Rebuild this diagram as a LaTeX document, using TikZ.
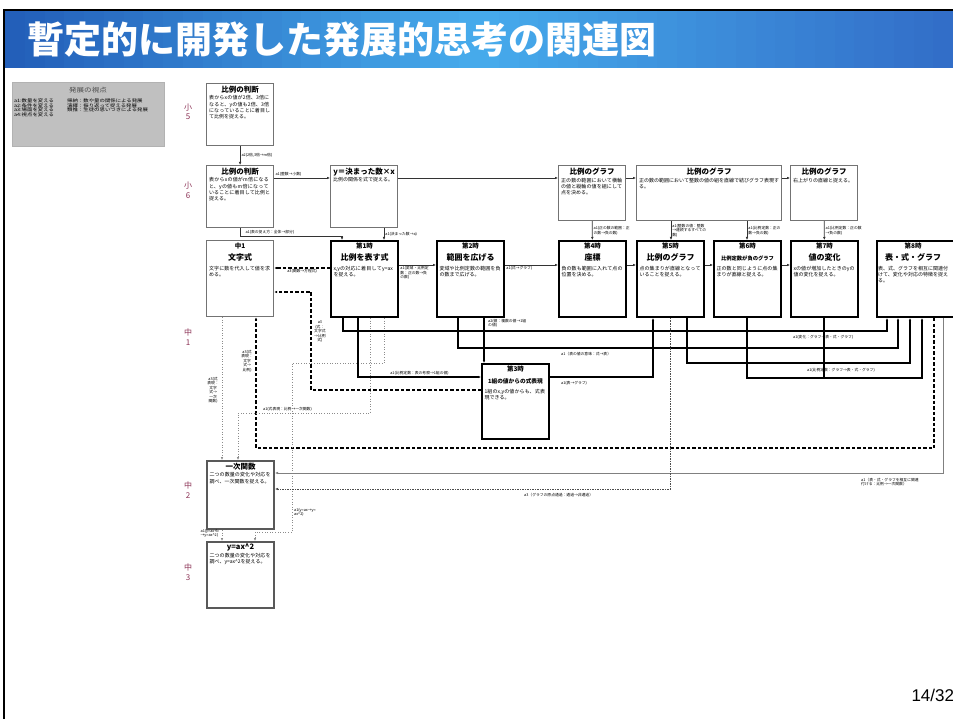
\documentclass[tikz,border=0pt]{standalone}
\usepackage{fontspec}
\setmainfont{Noto Sans CJK JP}
\newfontfamily\hiroi{Noto Sans CJK JP}[FakeStretch=1.2]
\newfontfamily\pagefont{Liberation Sans}
\usetikzlibrary{arrows.meta}
\XeTeXlinebreaklocale "ja"
\XeTeXlinebreakskip=0pt plus 1pt
\definecolor{gakunen}{RGB}{140,50,85}
\definecolor{haiiro}{RGB}{192,192,192}
\definecolor{aoL}{RGB}{35,95,185}
\definecolor{aoM}{RGB}{70,170,235}
\definecolor{aoR}{RGB}{50,110,200}
\newcommand{\honbun}{\fontsize{5}{6.3}\selectfont}
\newcommand{\komoji}{\fontsize{3.8}{4.5}\selectfont}
\newcommand{\midashi}[1]{{\centering\bfseries\fontsize{7.5}{10}\selectfont #1\par}\vspace{1pt}}
\newcommand{\jikan}[2]{{\centering\bfseries\fontsize{6.5}{9}\selectfont #1\par\fontsize{8}{12}\selectfont #2\par}\vspace{3pt}}
\begin{document}
\begin{tikzpicture}[x=1pt, y=-1pt,
  kihon/.style={draw=black!55, line width=1.2pt, anchor=north west, inner sep=0pt, minimum width=67pt},
  futo/.style={kihon, draw=black, line width=2pt},
  naka/.style={anchor=north, text width=#1, align=left, inner sep=2pt, yshift=-1pt, font=\honbun},
  naka/.default=62pt,
  ya/.style={-{Latex[length=3pt,width=2.6pt]}},
  sen/.style={ya, draw=black!80, line width=0.8pt},
  futosen/.style={ya, line width=1.5pt},
  tensen/.style={ya, line width=1.3pt, dash pattern=on 3.5pt off 2pt},
  hasen/.style={ya, draw=black!45, line width=0.6pt, dotted},
  hasen2/.style={ya, draw=black!70, line width=0.9pt, dash pattern=on 1.5pt off 1pt},
  lab/.style={font=\komoji, inner sep=1pt, align=left},
  gaku/.style={text=gakunen, font=\fontsize{8}{9.5}\selectfont, align=center}]
\useasboundingbox (0,0) rectangle (953,719);
\fill[white] (0,0) rectangle (953,719);
% title bar gradient
\foreach \i in {0,...,23} {
  \pgfmathsetmacro\mixA{100*\i/23}
  \pgfmathsetmacro\mixB{100-100*\i/23}
  \fill[aoM!\mixA!aoL] (5+19.75*\i,11) rectangle (5+19.75*\i+20.5,68);
  \fill[aoR!\mixA!aoM] (479+19.75*\i,11) rectangle (479+19.75*\i+20.5,68);
}
\draw[line width=2.5pt] (4,719) -- (4,10) -- (953,10);
\node[anchor=west, text=white, font=\fontsize{37}{40}\selectfont\bfseries] (daimei) at (24,40) {暫定的に開発した発展的思考の関連図};
\node[anchor=west, font=\pagefont\fontsize{17}{17}\selectfont] (peji) at (908,695) {14/32};

\node[fill=haiiro, draw=black!30, line width=0.4pt, minimum width=152pt, minimum height=64pt, anchor=north west, inner sep=0pt] (shiten) at (12,82) {};
\node[font=\hiroi\fontsize{6.3}{7}\selectfont, text=black!70] (shitenmidashi) at (88,90) {発展の視点};
\node[anchor=north west, inner sep=0pt, align=left, font=\hiroi\fontsize{4.5}{4.5}\selectfont] (shitenA) at (14,99) {a1:数量を変える\\a2:条件を変える\\a3:場面を変える\\a4:視点を変える};
\node[anchor=north west, inner sep=0pt, align=left, font=\hiroi\fontsize{4.5}{4.5}\selectfont] (shitenB) at (67,99) {帰納：数や量の関係による発展\\演繹：振り返って捉える発展\\類推：生徒の思いつきによる発展};

\node[gaku] (sho5) at (188,112) {小\\5};
\node[gaku] (sho6) at (188,190) {小\\6};
\node[gaku] (chu1) at (188,337) {中\\1};
\node[gaku] (chu2) at (188,490) {中\\2};
\node[gaku] (chu3) at (188,572) {中\\3};

\node[kihon, minimum height=62pt, label={[naka]north:{\midashi{比例の判断}表からxの値が2倍、3倍になると、yの値も2倍、3倍になっていることに着目して比例を捉える。}}] (hanrei5) at (206,83) {};
\node[kihon, minimum height=62pt, label={[naka]north:{\midashi{比例の判断}表からxの値がm倍になると、yの値もm倍になっていることに着目して比例と捉える。}}] (hanrei6) at (206,165) {};
\node[kihon, minimum height=62pt, label={[naka]north:{\midashi{y＝決まった数×x}比例の関係を式で捉える。}}] (kimatta) at (330,165) {};
\node[kihon, minimum height=55pt, label={[naka]north:{\midashi{比例のグラフ}正の数の範囲において横軸の値と縦軸の値を組にして点を決める。}}] (graph1) at (558,165) {};
\node[kihon, minimum height=55pt, minimum width=145pt, label={[naka=140pt]north:{\midashi{比例のグラフ}正の数の範囲において整数の値の組を直線で結びグラフ表現する。}}] (graph2) at (636,165) {};
\node[kihon, minimum height=55pt, label={[naka]north:{\midashi{比例のグラフ}右上がりの直線と捉える。}}] (graph3) at (790,165) {};

\node[kihon, minimum height=76pt, label={[naka]north:{\jikan{中1}{文字式}文字に数を代入して値を求める。}}] (mojishiki) at (206,240) {};
\node[futo, minimum height=76pt, label={[naka]north:{\jikan{第1時}{比例を表す式}x,yの対応に着目してy=axを捉える。}}] (ji1) at (330,240) {};
\node[futo, minimum height=76pt, label={[naka]north:{\jikan{第2時}{範囲を広げる}変域や比例定数の範囲を負の数まで広げる。}}] (ji2) at (436,240) {};
\node[futo, minimum height=76pt, label={[naka]north:{\jikan{第4時}{座標}負の数も範囲に入れて点の位置を決める。}}] (ji4) at (558,240) {};
\node[futo, minimum height=76pt, label={[naka]north:{\jikan{第5時}{比例のグラフ}点の集まりが直線となっていることを捉える。}}] (ji5) at (636,240) {};
\node[futo, minimum height=76pt, label={[naka]north:{\jikan{第6時}{\fontsize{5.3}{12}\selectfont 比例定数が負のグラフ}正の数と同じように点の集まりが直線と捉える。}}] (ji6) at (713,240) {};
\node[futo, minimum height=76pt, label={[naka]north:{\jikan{第7時}{値の変化}xの値が増加したときのyの値の変化を捉える。}}] (ji7) at (790,240) {};
\node[futo, minimum height=76pt, minimum width=84pt, label={[naka=70pt, anchor=north west]north west:{\jikan{第8時}{表・式・グラフ}表、式、グラフを相互に関連付けて、変化や対応の特徴を捉える。}}] (ji8) at (876,240) {};
\node[futo, minimum height=75pt, label={[naka]north:{\jikan{第3時}{\fontsize{5.7}{12}\selectfont 1組の値からの式表現}1組のx,yの値からも、式表現できる。}}] (ji3) at (481,363) {};
\node[futo, draw=black!65, minimum height=68pt, label={[naka]north:{\midashi{一次関数}二つの数量の変化や対応を調べ、一次関数を捉える。}}] (ichiji) at (206,460) {};
\node[futo, draw=black!65, minimum height=66pt, label={[naka]north:{\midashi{y=ax\textasciicircum 2}二つの数量の変化や対応を調べ、y=ax\textasciicircum 2を捉える。}}] (niji) at (206,541) {};

\draw[sen] (hanrei5) -- node[lab, right] (r1) {a2(2倍,3倍→m倍)} (hanrei6);
\draw[sen] (hanrei6.east |- 0,178) -- node[lab, above right, pos=0] (r2) {a1(整数→小数)} (kimatta.west |- 0,178);
\draw[sen] (kimatta.east |- 0,178) -- (graph1.west |- 0,178);
\draw[sen] (graph1.east |- 0,178) -- (graph2.west |- 0,178);
\draw[sen] (graph2.east |- 0,178) -- (graph3.west |- 0,178);
\draw[sen] (hanrei6.south) |- node[lab, above right, pos=0.52] (r3) {a1(表の捉え方：全体→部分)} (342,236) -- (342,0 |- ji1.north);
\draw[sen] (384,0 |- kimatta.south) -- node[lab, right] (r4) {a1(決まった数→a)} (384,0 |- ji1.north);
\draw[sen] (graph1) -- node[lab, right] (r5) {a1(正の数の範囲：正\\の数→負の数)} (ji4);
\draw[sen] (671,0 |- graph2.south) -- node[lab, right] (r6) {a1(整数の値：整数\\→連続するすべての\\数)} (671,0 |- ji5.north);
\draw[sen] (747,0 |- graph2.south) -- node[lab, right] (r7) {a1(比例定数：正の\\数→負の数)} (747,0 |- ji6.north);
\draw[sen] (graph3) -- node[lab, right] (r8) {a1(比例定数：正の数\\→負の数)} (ji7);

\draw[sen] (ji1.east |- 0,265) -- node[lab, below right, pos=0] (r9) {a1(変域・比例定\\数：正の数→負\\の数)} (ji2.west |- 0,265);
\draw[sen] (ji2.east |- 0,265) -- node[lab, below right, pos=0] (r10) {a1(式→グラフ)} (ji4.west |- 0,265);
\draw[sen] (ji4.east |- 0,265) -- (ji5.west |- 0,265);
\draw[sen] (ji5.east |- 0,265) -- (ji6.west |- 0,265);
\draw[sen] (ji6.east |- 0,265) -- (ji7.west |- 0,265);

\draw[tensen] (ji1.west |- 0,268) -- node[lab, below] (r11) {a3(関数→方程式)} (mojishiki.east |- 0,268);
\draw[tensen] (ji3.west |- 0,390) -| (311,292) -- (mojishiki.east |- 0,292);
\node[lab, align=center, anchor=north west] (r12) at (313,320) {a3\\(式：\\文字式\\→比例\\式)};
\draw[tensen] (934,0 |- ji8.south) |- (256,448) -- (256,0 |- mojishiki.south);
\node[lab, align=center, anchor=north east] (r13) at (254,349) {a3(式\\表現：\\文字\\式→\\比例)};

\draw[hasen] (222,0 |- mojishiki.south) -- (222,0 |- ichiji.north);
\node[lab, align=center, anchor=north east] (r14) at (220,376) {a3(式\\表現：\\文字\\式→\\一次\\関数)};
\draw[hasen] (370,0 |- ji1.south) |- (238,413) -- (238,0 |- ichiji.north);
\node[lab, anchor=south west] (r15) at (262,412) {a1(式表現：比例→一次関数)};
\draw[hasen] (384,0 |- ji1.south) |- (292,363) |- (255,532) -- (255,0 |- niji.north);
\node[lab, anchor=north west] (r16) at (293,507) {a1(y=ax→y=\\ax\textasciicircum 2)};
\draw[hasen] (222,0 |- ichiji.south) -- (222,0 |- niji.north);
\node[lab, anchor=north east] (r17) at (220,528) {a1(y=ax+b\\→y=ax\textasciicircum 2)};

\draw[futosen] (343,0 |- ji1.south) |- (887,331) -- (887,0 |- ji8.south);
\node[lab, anchor=north west] (r18) at (792,334) {a1(変化：グラフ→表・式・グラフ)};
\draw[futosen] (358,0 |- ji1.south) |- node[lab, above, pos=0.75] (r19) {a1(比例定数：表の考察→1組の値)} (ji3.west |- 0,377);
\draw[futosen] (458,0 |- ji2.south) |- (898,348) -- (898,0 |- ji8.south);
\node[lab, anchor=north west] (r20) at (560,351) {a1（表の値の意味：式→表）};
\draw[futosen] (484,0 |- ji2.south) -- (484,0 |- ji3.north);
\node[lab, anchor=north west] (r21) at (487,318) {a2(値：複数の値→1組\\の値)};
\draw[futosen] (ji3.east |- 0,377) -| (653,0 |- ji5.south);
\node[lab, anchor=north west] (r22) at (560,380) {a1(表→グラフ)};
\draw[futosen] (687,0 |- ji5.south) |- (910,363) -- (910,0 |- ji8.south);
\draw[futosen] (747,0 |- ji6.south) |- (922,378) -- (922,0 |- ji8.south);
\draw[line width=1.5pt] (824,0 |- ji7.south) -- (824,378);
\node[lab, anchor=west] (r23) at (806,370) {a1(比例定数：グラフ→表・式・グラフ)};

\draw[sen, draw=black!50, line width=1pt] (943,0 |- ji8.south) |- (ichiji.east |- 0,473);
\node[lab, anchor=north west] (r24) at (860,477) {a1（表・式・グラフを相互に関連\\付ける：比例→一次関数）};
\draw[hasen2] (670,0 |- ji5.south) |- (ichiji.east |- 0,489);
\node[lab, anchor=north west] (r25) at (523,492) {a3（グラフの原点通過：通過→非通過）};
\end{tikzpicture}
\end{document}
